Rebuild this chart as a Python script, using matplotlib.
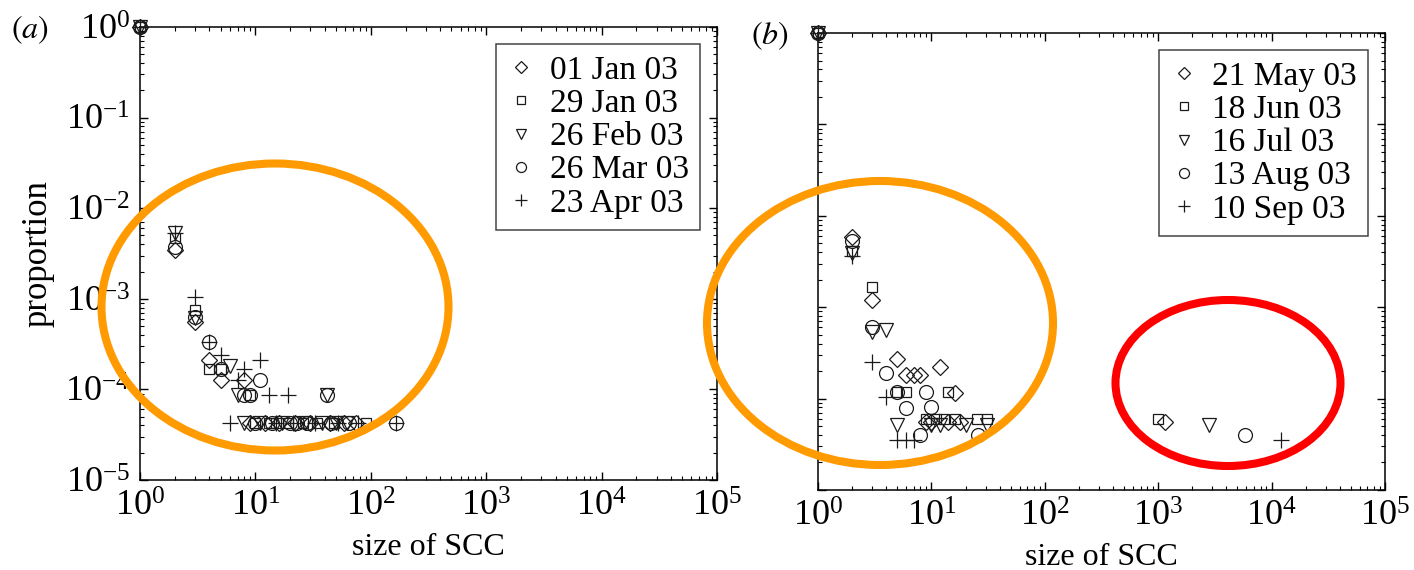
import matplotlib

matplotlib.use("Agg")
import matplotlib.pyplot as plt
from matplotlib.patches import Ellipse
from matplotlib.ticker import LogLocator, LogFormatterMathtext, NullFormatter

# ---- panel (a): January to April 2003 ----
DATES_A = ["01 Jan 03", "29 Jan 03", "26 Feb 03", "26 Mar 03", "23 Apr 03"]

SIZE_A_JAN01 = [1, 2, 3, 4, 5, 8, 9, 12, 16, 22, 30, 44, 58, 75]
PROP_A_JAN01 = [0.99, 3.5e-3, 5.6e-4, 2.1e-4, 1.26e-4, 1.26e-4,
                4.3e-5, 4.3e-5, 4.3e-5, 4.3e-5, 4.3e-5, 4.3e-5, 4.3e-5, 4.3e-5]

SIZE_A_JAN29 = [1, 2, 3, 4, 5, 9, 10, 13, 15, 19, 26, 34, 48, 90]
PROP_A_JAN29 = [0.99, 4.7e-3, 7.5e-4, 1.7e-4, 1.7e-4, 8.7e-5,
                4.3e-5, 4.3e-5, 4.3e-5, 4.3e-5, 4.3e-5, 4.3e-5, 4.3e-5, 4.3e-5]

SIZE_A_FEB26 = [1, 2, 3, 6, 7, 8, 11, 17, 27, 38, 42, 50, 62]
PROP_A_FEB26 = [0.99, 5.3e-3, 6.1e-4, 1.8e-4, 8.7e-5, 4.3e-5, 4.3e-5,
                4.3e-5, 4.3e-5, 4.3e-5, 8.7e-5, 4.3e-5, 4.3e-5]

SIZE_A_MAR26 = [1, 2, 3, 4, 5, 8, 9, 10, 11, 14, 20, 23, 28, 42, 45, 65, 165]
PROP_A_MAR26 = [0.99, 3.7e-3, 6.3e-4, 3.3e-4, 1.7e-4, 8.7e-5, 8.7e-5, 4.3e-5,
                1.26e-4, 4.3e-5, 4.3e-5, 4.3e-5, 4.3e-5, 8.7e-5, 4.3e-5, 4.3e-5, 4.3e-5]

SIZE_A_APR23 = [1, 2, 3, 4, 5, 6, 7, 8, 11, 13, 15, 19, 21, 33, 52, 78, 165]
PROP_A_APR23 = [0.99, 5.3e-3, 1.05e-3, 3.3e-4, 2.4e-4, 4.3e-5, 1.26e-4, 1.7e-4,
                2.1e-4, 8.7e-5, 4.3e-5, 8.7e-5, 4.3e-5, 4.3e-5, 4.3e-5, 4.3e-5, 4.3e-5]

# ---- panel (b): May to September 2003 ----
DATES_B = ["21 May 03", "18 Jun 03", "16 Jul 03", "13 Aug 03", "10 Sep 03"]

SIZE_B_MAY21 = [1, 2, 3, 5, 6, 7, 8, 9, 10, 12, 14, 16, 18, 1150]
PROP_B_MAY21 = [0.99, 5.8e-3, 1.2e-3, 2.7e-4, 1.8e-4, 1.8e-4, 1.8e-4, 5.5e-5,
                5.5e-5, 2.2e-4, 5.5e-5, 1.15e-4, 5.5e-5, 5.5e-5]

SIZE_B_JUN18 = [1, 2, 3, 5, 6, 9, 11, 13, 14, 16, 25, 31, 1000]
PROP_B_JUN18 = [0.99, 4.1e-3, 1.66e-3, 1.18e-4, 1.18e-4, 6.0e-5, 6.0e-5,
                6.0e-5, 1.18e-4, 6.0e-5, 6.0e-5, 6.0e-5, 6.0e-5]

SIZE_B_JUL16 = [1, 2, 3, 4, 5, 10, 12, 20, 31, 2800]
PROP_B_JUL16 = [0.99, 3.9e-3, 5.3e-4, 5.6e-4, 5.2e-5, 5.2e-5, 5.2e-5,
                5.2e-5, 5.2e-5, 5.2e-5]

SIZE_B_AUG13 = [1, 2, 3, 4, 5, 6, 8, 9, 10, 26, 5800]
PROP_B_AUG13 = [0.99, 5.3e-3, 6.1e-4, 1.9e-4, 1.18e-4, 7.9e-5, 4.0e-5,
                1.18e-4, 8.0e-5, 4.0e-5, 4.0e-5]

SIZE_B_SEP10 = [1, 2, 3, 4, 5, 6, 7, 12000]
PROP_B_SEP10 = [0.99, 3.6e-3, 2.5e-4, 1.05e-4, 3.5e-5, 3.5e-5, 3.5e-5, 3.5e-5]

MARKERS = [
    dict(marker="D", markersize=8.0),
    dict(marker="s", markersize=7.5),
    dict(marker="v", markersize=10.5),
    dict(marker="o", markersize=10.0),
    dict(marker="+", markersize=11.5),
]

INK = "#1a1a1a"
TICK_SIZE = 26
LABEL_SIZE = 23
LEGEND_SIZE = 24


def set_plot_style() -> None:
    plt.rcParams.update(
        {
            "font.family": ["Liberation Serif", "DejaVu Serif"],
            "mathtext.fontset": "stix",
            "font.size": LABEL_SIZE,
            "axes.linewidth": 1.1,
            "xtick.direction": "in",
            "ytick.direction": "in",
            "xtick.top": True,
            "ytick.right": True,
            "xtick.major.size": 6,
            "ytick.major.size": 6,
            "xtick.minor.size": 3,
            "ytick.minor.size": 3,
            "xtick.major.width": 1.0,
            "ytick.major.width": 1.0,
            "xtick.minor.width": 0.8,
            "ytick.minor.width": 0.8,
            "xtick.major.pad": 8,
            "ytick.major.pad": 7,
        }
    )


def draw_panel(ax, series, dates, show_ylabels: bool) -> None:
    for (xs, ys), style, label in zip(series, MARKERS, dates):
        ax.plot(
            xs,
            ys,
            linestyle="none",
            markerfacecolor="none",
            markeredgecolor=INK,
            markeredgewidth=0.9,
            color=INK,
            label=label,
            clip_on=False,
            zorder=3,
            **style,
        )

    ax.set_xscale("log")
    ax.set_yscale("log")
    ax.set_xlim(1, 1e5)
    ax.set_ylim(1e-5, 1)

    for axis in (ax.xaxis, ax.yaxis):
        axis.set_major_locator(LogLocator(base=10, numticks=10))
        axis.set_minor_locator(LogLocator(base=10, subs=range(2, 10), numticks=10))
        axis.set_major_formatter(LogFormatterMathtext())
        axis.set_minor_formatter(NullFormatter())
    ax.tick_params(which="both", top=True, right=True, labelsize=TICK_SIZE)
    if not show_ylabels:
        ax.tick_params(axis="y", labelleft=False)

    ax.set_xlabel("size of SCC", fontsize=LABEL_SIZE, labelpad=6)

    legend = ax.legend(
        loc="upper right",
        fontsize=LEGEND_SIZE,
        frameon=True,
        fancybox=False,
        edgecolor="#444444",
        framealpha=1.0,
        markerscale=0.72,
        handlelength=0.8,
        handletextpad=0.45,
        labelspacing=0.08,
        borderpad=0.35,
        borderaxespad=0.5,
    )
    legend.get_frame().set_linewidth(1.1)


def main() -> None:
    set_plot_style()
    fig = plt.figure(figsize=(14.14, 5.70), dpi=100)

    ax_a = fig.add_axes([0.0990, 0.1579, 0.4081, 0.7947])
    ax_b = fig.add_axes([0.5785, 0.1404, 0.4010, 0.8017])

    series_a = [
        (SIZE_A_JAN01, PROP_A_JAN01),
        (SIZE_A_JAN29, PROP_A_JAN29),
        (SIZE_A_FEB26, PROP_A_FEB26),
        (SIZE_A_MAR26, PROP_A_MAR26),
        (SIZE_A_APR23, PROP_A_APR23),
    ]
    series_b = [
        (SIZE_B_MAY21, PROP_B_MAY21),
        (SIZE_B_JUN18, PROP_B_JUN18),
        (SIZE_B_JUL16, PROP_B_JUL16),
        (SIZE_B_AUG13, PROP_B_AUG13),
        (SIZE_B_SEP10, PROP_B_SEP10),
    ]

    draw_panel(ax_a, series_a, DATES_A, show_ylabels=True)
    draw_panel(ax_b, series_b, DATES_B, show_ylabels=False)
    ax_a.set_ylabel("proportion", fontsize=25, labelpad=8)

    fig.text(0.008, 0.947, r"$(\mathit{a})$", fontsize=LABEL_SIZE, va="center")
    fig.text(0.531, 0.938, r"$(\mathit{b})$", fontsize=LABEL_SIZE, va="center")

    # highlight rings drawn over both panels
    rings = [
        ((275 / 1414, 1 - 307 / 570), 347 / 1414, 287 / 570, "#FF9A00"),
        ((880 / 1414, 1 - 323 / 570), 346 / 1414, 284 / 570, "#FF9A00"),
        ((1228 / 1414, 1 - 383 / 570), 225 / 1414, 166 / 570, "#FF0000"),
    ]
    for center, width, height, color in rings:
        fig.add_artist(
            Ellipse(
                center,
                width,
                height,
                transform=fig.transFigure,
                facecolor="none",
                edgecolor=color,
                linewidth=5.8,
                zorder=10,
            )
        )

    fig.savefig("out.png", dpi=100)
    plt.close(fig)


if __name__ == "__main__":
    main()
